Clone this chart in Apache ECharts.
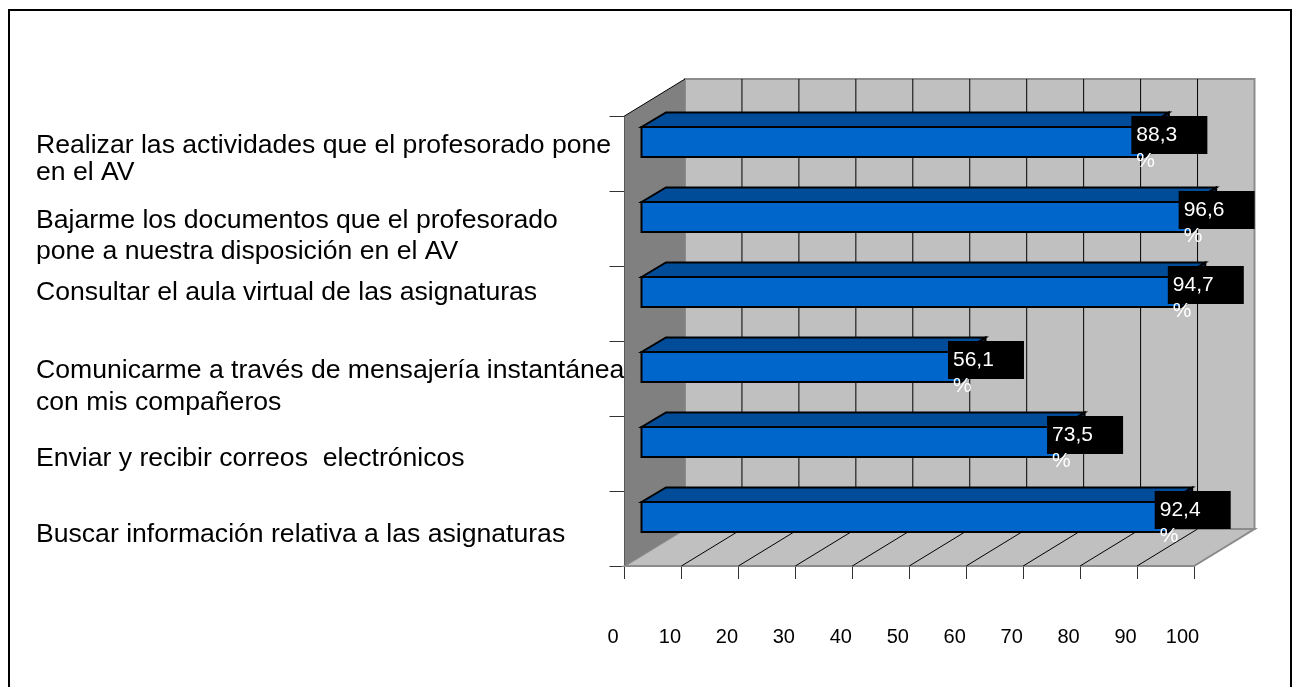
<!DOCTYPE html>
<html><head><meta charset="utf-8">
<style>html,body{margin:0;padding:0;background:#fff}#c{width:1296px;height:687px}</style>
<script src="https://cdn.jsdelivr.net/npm/echarts@6/dist/echarts.min.js"></script>
</head><body><div id="c"></div>
<script>
// bottom-to-top, as the category axis runs
const categories = [
  'Buscar información relativa a las asignaturas',
  'Enviar y recibir correos  electrónicos',
  'Comunicarme a través de mensajería instantánea\ncon mis compañeros',
  'Consultar el aula virtual de las asignaturas',
  'Bajarme los documentos que el profesorado\npone a nuestra disposición en el AV',
  'Realizar las actividades que el profesorado pone\nen el AV'
];
const values = [92.4, 73.5, 56.1, 94.7, 96.6, 88.3];
const xTicks = [0,10,20,30,40,50,60,70,80,90,100];
// vertical nudge (px, + = down) and line spacing of each category label
const labelShift = [6, 5, 8, -11, 8, 6];
const labelLeading = [27, 27, 32, 27, 31, 27];

const FONT = '"Liberation Sans", Arial, sans-serif';
const DX = 60.5, DY = -37;          // depth of the plot box
const BX = 17, BY = -11.5;          // bar front face offset from the front plane
const BDX = 24.5, BDY = -14.5;      // bar depth
const BAR_H = 30;
const LABEL_SIZE = 26.6;

const chart = echarts.init(document.getElementById('c'), null, {renderer:'canvas'});
const GRAY = '#808080', WALL = '#c0c0c0';

// A category label is a rich text block; a blank spacer line above or below it moves it off the band centre.
const richStyles = {};
categories.forEach((c,i)=>{
  richStyles['t'+i] = {fontSize:LABEL_SIZE,fontFamily:FONT,color:'#000',lineHeight:labelLeading[i],align:'left'};
  richStyles['s'+i] = {fontSize:1,lineHeight:Math.abs(labelShift[i])*2};
});
function categoryLabel(value, index){
  const body = value.split('\n').map(l=>'{t'+index+'|'+l+'}').join('\n');
  const spacer = '{s'+index+'| }';
  return labelShift[index] >= 0 ? spacer+'\n'+body : body+'\n'+spacer;
}

function wallsItem(params, api){
  const c = params.coordSys, l=c.x, r=c.x+c.width, t=c.y, b=c.y+c.height;
  const poly=(pts,fill,stroke)=>({type:'polygon',shape:{points:pts},style:{fill,stroke:stroke||fill,lineWidth:stroke?2:0}});
  return {type:'group',children:[
    poly([[l+DX,t+DY],[r+DX,t+DY],[r+DX,b+DY],[l+DX,b+DY]],WALL,'#8c8c8c'),
    poly([[l,b],[l+DX,b+DY],[r+DX,b+DY],[r,b]],WALL,'#8c8c8c'),
    poly([[l,t],[l+DX,t+DY],[l+DX,b+DY],[l,b]],GRAY),
    {type:'line',shape:{x1:l,y1:t,x2:l+DX,y2:t+DY},style:{stroke:'#000',lineWidth:1}}
  ]};
}
function gridItem(params, api){
  const v = api.value(0), p = api.coord([v,0]), c = params.coordSys;
  const t=c.y, b=c.y+c.height, x=p[0];
  const line=(x1,y1,x2,y2,col)=>({type:'line',shape:{x1,y1,x2,y2},style:{stroke:col||'#000',lineWidth:1}});
  const ch=[];
  if(v>0 && v<100) ch.push(line(x+DX,t+DY,x+DX,b+DY));
  if(v>0 && v<=100) ch.push(line(x,b,x+DX,b+DY,v===100?'#8c8c8c':'#000'));
  return {type:'group',children:ch};
}
function barItem(params, api){
  const end = api.coord([api.value(0), api.value(1)]);
  const zero = api.coord([0, api.value(1)]);
  const x0=zero[0]+BX, x1=end[0]+BX, yT=end[1]+BY-BAR_H/2, yB=yT+BAR_H;
  const st=f=>({fill:f,stroke:'#000',lineWidth:2,lineJoin:'miter'});
  return {type:'group',children:[
    {type:'polygon',shape:{points:[[x1,yT],[x1+BDX,yT+BDY],[x1+BDX,yB+BDY],[x1,yB]]},style:st('#002a55')},
    {type:'polygon',shape:{points:[[x0,yT],[x0+BDX,yT+BDY],[x1+BDX,yT+BDY],[x1,yT]]},style:st('#004c99')},
    {type:'rect',shape:{x:x0,y:yT,width:x1-x0,height:BAR_H},style:st('#0066cc')}
  ]};
}
function labelItem(params, api){
  const v=api.value(0), end=api.coord([v, api.value(1)]);
  const x=end[0]+BX-13, y=end[1]+BY-26;
  return {type:'group',children:[
    {type:'rect',shape:{x,y,width:76,height:38},style:{fill:'#000'}},
    {type:'text',x:x+5,y:y+6,style:{text:String(v).replace('.',',')+'\n%',fill:'#fff',font:'21px '+FONT,lineHeight:26,align:'left',verticalAlign:'top'}}
  ]};
}

chart.setOption({
  animation:false,
  backgroundColor:'#fff',
  graphic:[{type:'rect',z:-10,shape:{x:9,y:10,width:1282,height:690},style:{fill:'#fff',stroke:'#000',lineWidth:2}}],
  grid:{left:624.5,width:569.5,top:116,height:450,containLabel:false,outerBoundsMode:'none'},
  xAxis:{type:'value',min:0,max:100,interval:10,
    axisLine:{show:true,lineStyle:{color:'#000',width:1}},
    axisTick:{show:true,length:13,lineStyle:{color:'#333'}},
    splitLine:{show:false},
    axisLabel:{margin:61,color:'#000',fontSize:20,fontFamily:FONT,padding:[0,23,0,0],hideOverlap:false,showMinLabel:true,showMaxLabel:true}},
  yAxis:{type:'category',
    data:categories,
    axisLine:{show:true,lineStyle:{color:'#333',width:1}},
    axisTick:{show:true,length:15,alignWithLabel:false,lineStyle:{color:'#333'}},
    splitLine:{show:false},
    axisLabel:{interval:0,color:'#000',fontSize:LABEL_SIZE,fontFamily:FONT,align:'left',hideOverlap:false,
      formatter:categoryLabel,rich:richStyles,
      // pushes the left-aligned labels to the outer edge of the chart
      margin:588.5}},
  series:[
    {type:'custom',z:1,coordinateSystem:'cartesian2d',silent:true,data:[[0,0]],renderItem:wallsItem},
    {type:'custom',z:2,coordinateSystem:'cartesian2d',silent:true,data:xTicks.map(t=>[t,0]),encode:{x:0,y:1},renderItem:gridItem},
    {type:'custom',z:3,coordinateSystem:'cartesian2d',silent:true,data:values.map((v,i)=>[v,i]),encode:{x:0,y:1},renderItem:barItem},
    {type:'custom',z:4,coordinateSystem:'cartesian2d',silent:true,data:values.map((v,i)=>[v,i]),encode:{x:0,y:1},renderItem:labelItem}
  ]
});
</script></body></html>
